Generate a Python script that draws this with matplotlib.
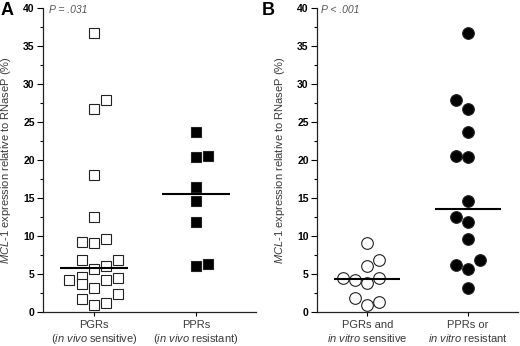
import numpy as np
import matplotlib
matplotlib.use("Agg")
import matplotlib.pyplot as plt
from matplotlib.ticker import MultipleLocator

plt.rcParams['font.family'] = ['Liberation Sans', 'DejaVu Sans']
plt.rcParams['mathtext.fontset'] = 'custom'
plt.rcParams['mathtext.rm'] = 'Liberation Sans'
plt.rcParams['mathtext.it'] = 'Liberation Sans:italic'

# ---- data ----
cats_a = ["PGRs\n($\\mathit{in\\ vivo}$ sensitive)", "PPRs\n($\\mathit{in\\ vivo}$ resistant)"]
cats_b = ["PGRs and\n$\\mathit{in\\ vitro}$ sensitive", "PPRs or\n$\\mathit{in\\ vitro}$ resistant"]

a_pgr = [36.65, 26.74, 27.93, 18.07, 12.46, 9.17, 9.08, 9.6, 6.8, 6.8, 5.66, 6.0,
         4.25, 4.56, 3.73, 4.25, 4.43, 3.16, 1.75, 1.18, 0.96, 2.41]
a_pgr_slot = [0, 0, 1, 0, 0, -1, 0, 1, -1, 2, 0, 1, -2, -1, -1, 1, 2, 0, -1, 1, 0, 2]
a_ppr = [23.74, 20.44, 20.57, 16.45, 14.56, 11.89, 6.1, 6.36]
a_ppr_slot = [0, 0, 1, 0, 0, 0, 0, 1]

b_sens = [9.08, 6.0, 6.84, 4.47, 4.25, 3.77, 4.43, 1.8, 0.96, 1.27]
b_sens_slot = [0, 0, 1, -2, -1, 0, 1, -1, 0, 1]
b_res = [36.7, 27.93, 26.74, 23.74, 20.57, 20.44, 14.6, 12.46, 11.89, 9.6, 6.18, 6.84, 5.6, 3.16]
b_res_slot = [0, -1, 0, 0, -1, 0, 0, -1, 0, 0, -1, 1, 0, 0]

p_a = "P = .031"
p_b = "P < .001"
ylabel = "$\\mathit{MCL}$-$\\mathit{1}$ expression relative to RNaseP (%)"

fig = plt.figure(figsize=(5.2, 3.46), dpi=100)
ax_a = fig.add_axes([43/520, 34/346, 213/520, 304/346])
ax_b = fig.add_axes([317/520, 34/346, 201/520, 304/346])

STEP = 0.12
HALF = 0.33
txtcol = '#3a3a3a'

def style(ax, cats, xmax):
    ax.set_xlim(0.5, xmax)
    ax.set_ylim(0, 40)
    for s in ['top', 'right']:
        ax.spines[s].set_visible(False)
    for s in ['left', 'bottom']:
        ax.spines[s].set_linewidth(0.9)
        ax.spines[s].set_color('#222222')
    ax.yaxis.set_major_locator(MultipleLocator(5))
    ax.yaxis.set_minor_locator(MultipleLocator(2.5))
    ax.set_xticks([1, 2])
    ax.set_xticklabels(cats, fontsize=8, color=txtcol, linespacing=1.2)
    ax.tick_params(axis='y', which='major', length=4, width=0.8, labelsize=7.5, pad=2)
    ax.tick_params(axis='y', which='minor', length=2, width=0.8)
    ax.tick_params(axis='x', length=3, width=0.8, pad=3)
    for t in ax.get_yticklabels():
        t.set_fontweight('bold')
    ax.set_ylabel(ylabel, fontsize=8, color=txtcol, labelpad=7)

def plot_group(ax, x, vals, slots, marker, face, size):
    xs = x + STEP * np.array(slots)
    ax.plot(xs, vals, linestyle='none', marker=marker, markersize=size,
            markerfacecolor=face, markeredgecolor='#222222', markeredgewidth=0.8,
            clip_on=False, zorder=3)
    m = np.median(vals)
    ax.hlines(m, x - HALF, x + HALF, colors='black', linewidth=1.5, zorder=4)

plot_group(ax_a, 1, a_pgr, a_pgr_slot, 's', 'white', 7.8)
plot_group(ax_a, 2, a_ppr, a_ppr_slot, 's', 'black', 7.8)
plot_group(ax_b, 1, b_sens, b_sens_slot, 'o', 'white', 8.4)
plot_group(ax_b, 2, b_res, b_res_slot, 'o', 'black', 8.4)

style(ax_a, cats_a, 2.59)
style(ax_b, cats_b, 2.5)

ax_a.text(0.03, 0.995, p_a, transform=ax_a.transAxes, fontsize=7.5, style='italic',
          color='#555555', va='center', ha='left')
ax_b.text(0.02, 0.995, p_b, transform=ax_b.transAxes, fontsize=7.5, style='italic',
          color='#555555', va='center', ha='left')

fig.text(1/520, 1 - 2/346, 'A', fontsize=13, fontweight='bold', va='top', ha='left')
fig.text(262/520, 1 - 2/346, 'B', fontsize=13, fontweight='bold', va='top', ha='left')

fig.savefig('out.png', dpi=100)
